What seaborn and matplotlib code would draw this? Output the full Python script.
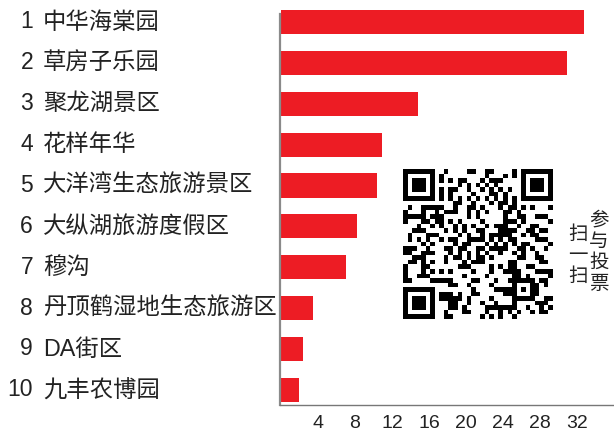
import numpy as np
import pandas as pd
import matplotlib
matplotlib.use("Agg")
import matplotlib.pyplot as plt
import matplotlib.transforms as mtransforms
import seaborn as sns

sns.set_style("white")
plt.rcParams['font.family'] = ['Liberation Sans', 'Noto Sans CJK SC', 'DejaVu Sans']

# chart data
ranks = ["1", "2", "3", "4", "5", "6", "7", "8", "9", "10"]
names = ["中华海棠园", "草房子乐园", "聚龙湖景区", "花样年华", "大洋湾生态旅游景区",
         "大纵湖旅游度假区", "穆沟", "丹顶鹤湿地生态旅游区", "DA街区", "九丰农博园"]
votes = [32.8, 30.9, 14.8, 10.9, 10.4, 8.2, 7.0, 3.5, 2.4, 1.9]
xticks = [4, 8, 12, 16, 20, 24, 28, 32]
scan_text = ["扫", "一", "扫"]
vote_text = ["参", "与", "投", "票"]

df = pd.DataFrame({"name": names, "votes": votes})

fig = plt.figure(figsize=(6.14, 4.33), dpi=100)
ax = fig.add_axes([280 / 614, 28 / 433, 334 / 614, 395.7 / 433])

sns.barplot(data=df, x="votes", y="name", color="#ED1C24", saturation=1,
            width=0.59, linewidth=0, ax=ax)

ax.set_xlim(-0.1, 36.0)
ax.set_ylim(9.37, -0.31)
ax.set_xticks(xticks)
ax.set_xticklabels([str(t) for t in xticks], fontsize=14, color="#222222")
ax.tick_params(axis="x", direction="inout", length=4, width=1, color="#333333", pad=5)
ax.set_yticks([])
ax.set_xlabel("")
ax.set_ylabel("")

for s in ["top", "right"]:
    ax.spines[s].set_visible(False)
ax.spines["left"].set_color("#8a8a8a")
ax.spines["left"].set_linewidth(1.6)
ax.spines["left"].set_bounds(9.37, -0.2)
ax.spines["bottom"].set_color("#777777")
ax.spines["bottom"].set_linewidth(1.0)

# rank numbers and names on the left
trans = mtransforms.blended_transform_factory(fig.transFigure, ax.transData)
for i, (r, n) in enumerate(zip(ranks, names)):
    ax.text(33 / 614, i, r, transform=trans, ha="right", va="center",
            fontsize=16.5, color="#222222")
    ax.text(43 / 614, i, n, transform=trans, ha="left", va="center",
            fontsize=16.8, color="#222222")

# QR-like decoration
N = 33
qr = np.zeros((N, N))
rr, cc = np.meshgrid(np.arange(N), np.arange(N), indexing="ij")
qr[((rr * 7 + cc * 13) ^ (rr * cc + 3 * rr)) % 3 == 0] = 1
flip = ((rr * 5 + cc * 3) % 7) < 2
qr[flip] = 1 - qr[flip]


def finder(m, r0, c0):
    m[max(r0 - 1, 0):r0 + 8, max(c0 - 1, 0):c0 + 8] = 0
    m[r0:r0 + 7, c0:c0 + 7] = 1
    m[r0 + 1:r0 + 6, c0 + 1:c0 + 6] = 0
    m[r0 + 2:r0 + 5, c0 + 2:c0 + 5] = 1


finder(qr, 0, 0)
finder(qr, 0, N - 7)
finder(qr, N - 7, 0)
qr[6, 8:N - 8] = (np.arange(8, N - 8) % 2 == 0)
qr[8:N - 8, 6] = (np.arange(8, N - 8) % 2 == 0)
qr[24:29, 24:29] = 1
qr[25:28, 25:28] = 0
qr[26, 26] = 1

qax = fig.add_axes([403 / 614, (433 - 319) / 433, 150 / 614, 150 / 433])
qax.imshow(qr, cmap="gray_r", interpolation="nearest", aspect="auto")
qax.axis("off")

for k, ch in enumerate(scan_text):
    fig.text(578 / 614, 1 - (235 + k * 21) / 433, ch, ha="center", va="center",
             fontsize=14, color="#222222")
for k, ch in enumerate(vote_text):
    fig.text(599 / 614, 1 - (221 + k * 21) / 433, ch, ha="center", va="center",
             fontsize=14, color="#222222")

fig.savefig("out.png", dpi=100)
